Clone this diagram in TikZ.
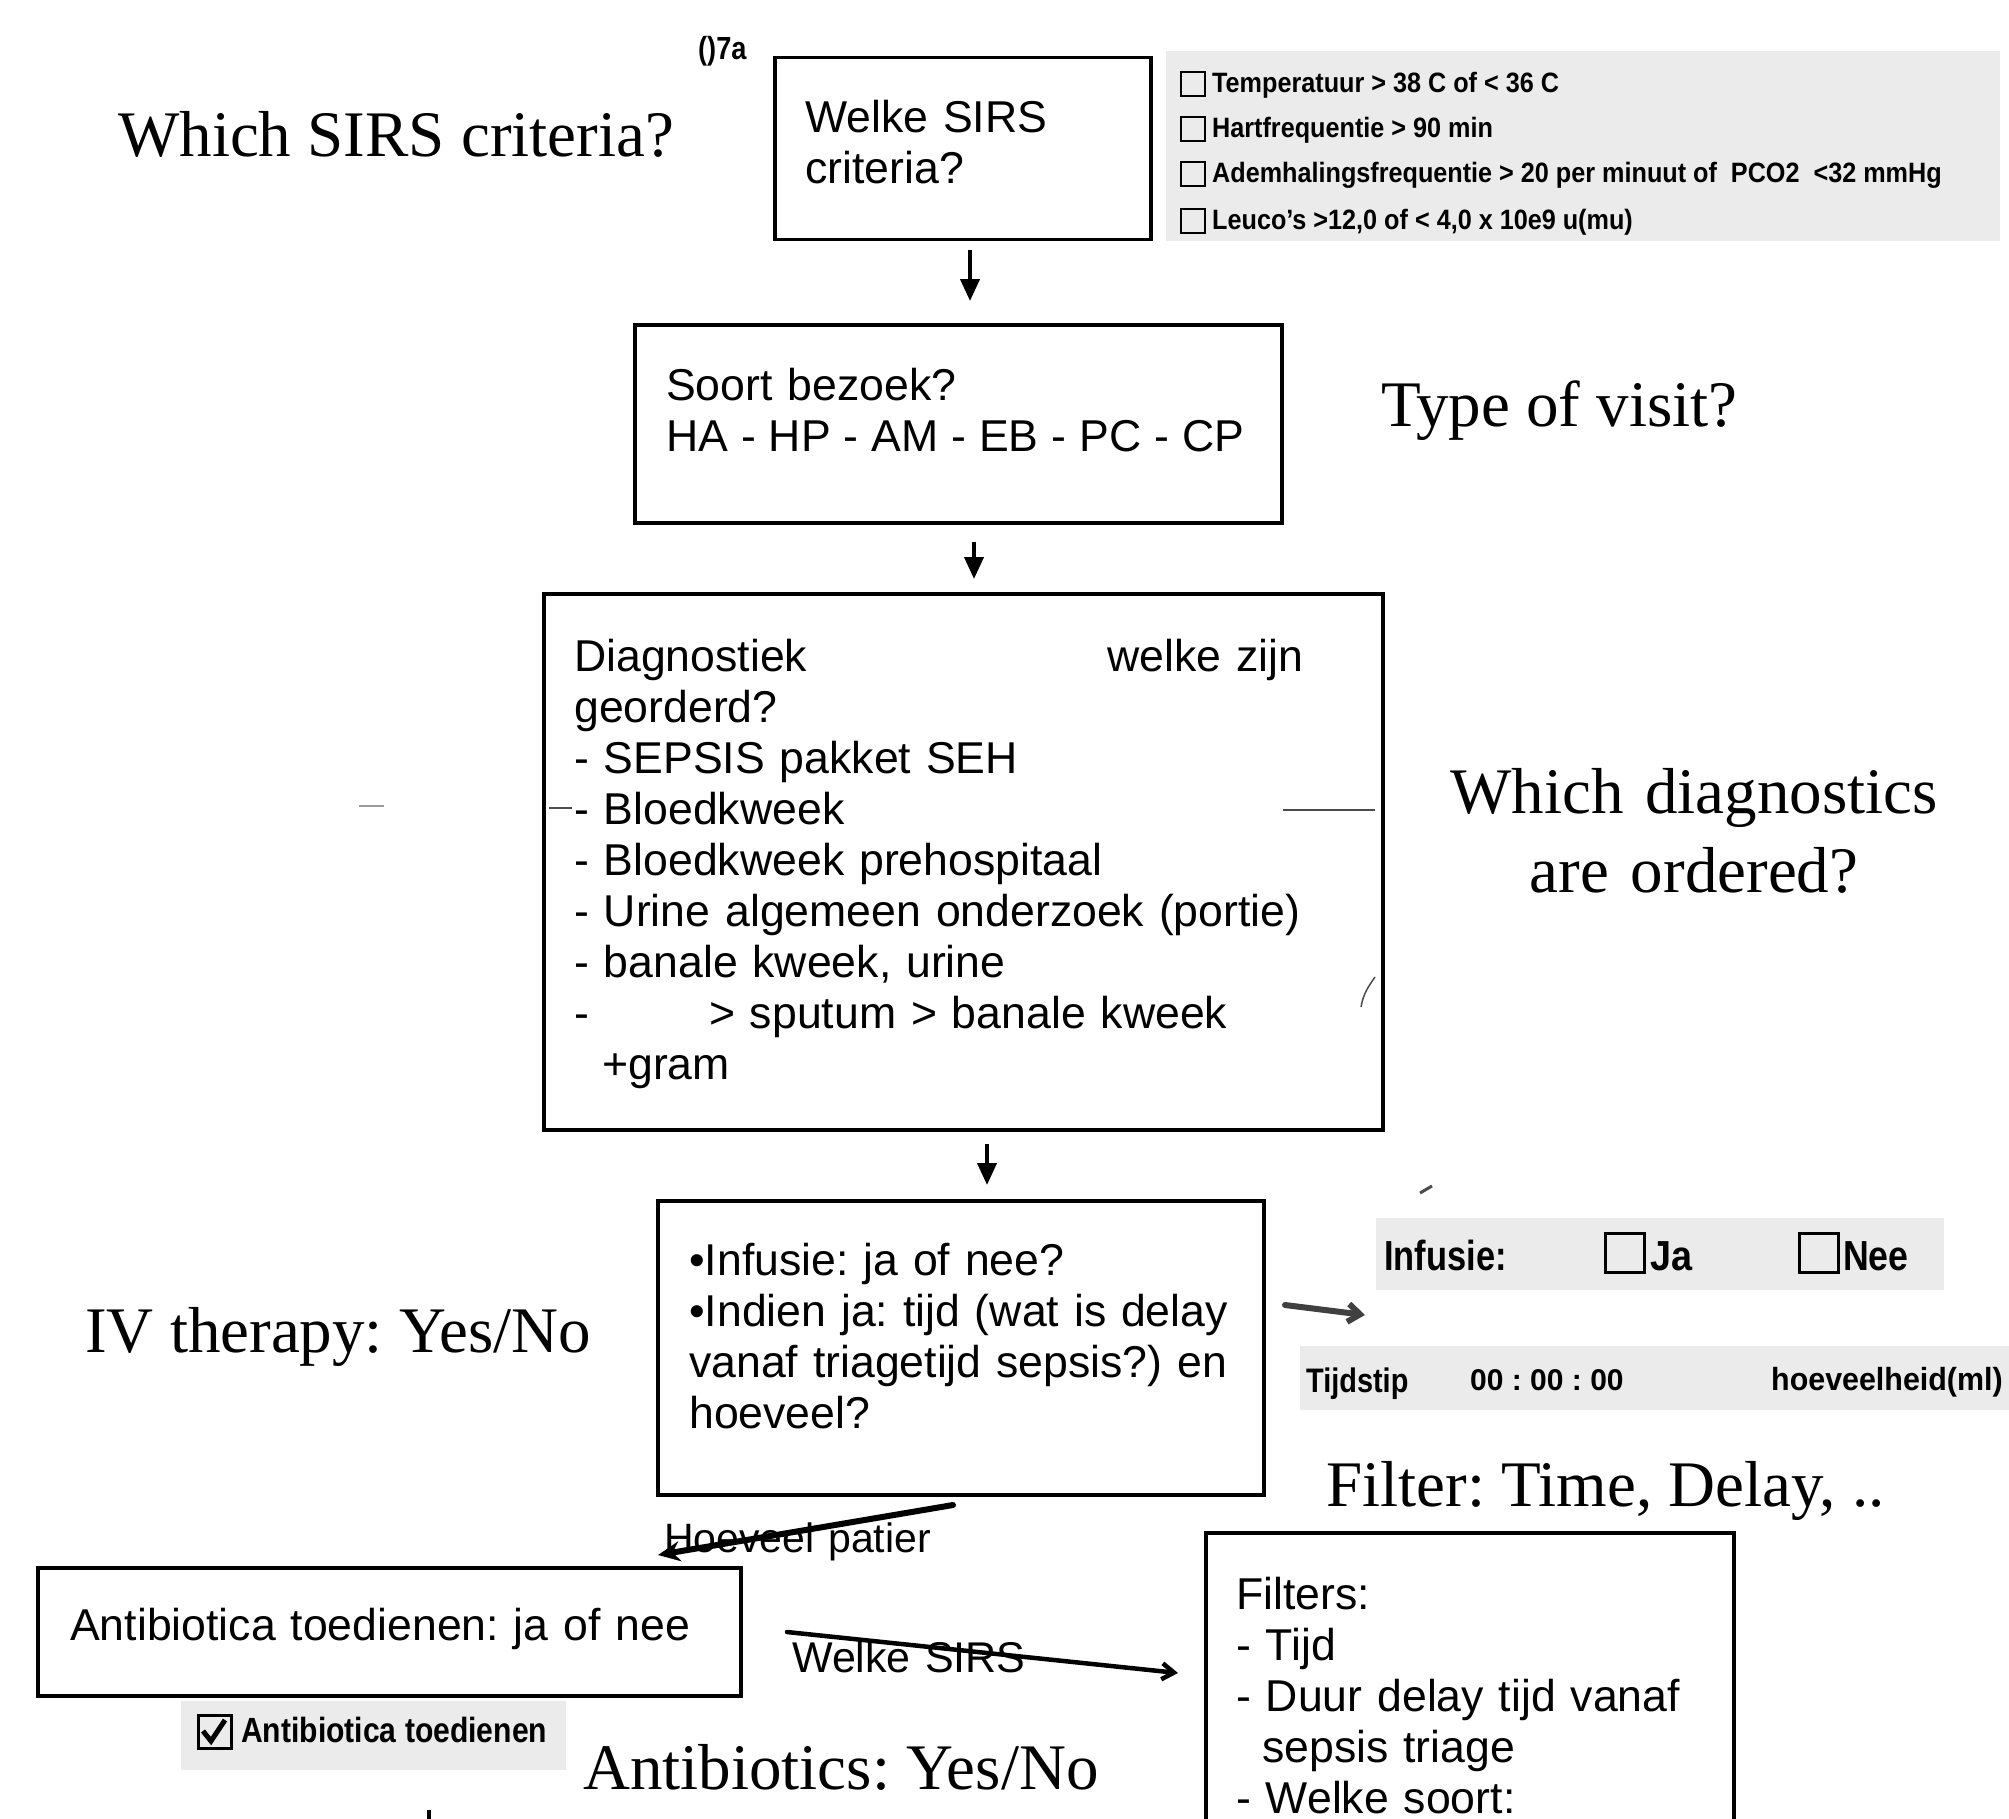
\documentclass[tikz,border=0pt]{standalone}
\usepackage{fontspec}
\setmainfont{Liberation Serif}
\setsansfont{Liberation Sans}
\usetikzlibrary{arrows.meta}
\frenchspacing

\begin{document}
\begin{tikzpicture}[x=1pt, y=-1pt,
		box/.style = { draw, line width = 3.5pt, inner sep = 0pt, anchor = north west },
		boxtext/.style = { anchor = base west, inner sep = 0pt, text width = 820pt, align = left, font = \sffamily\fontsize{44.6}{51}\selectfont },
		note/.style = { anchor = base west, inner sep = 0pt, font = \rmfamily\fontsize{65}{79}\selectfont },
		panel/.style = { fill = black!8 },
		form/.style = { anchor = base west, inner sep = 0pt, font = \sffamily\bfseries\fontsize{28}{30}\selectfont },
		chkbox/.style = { draw, line width = 2pt, inner sep = 0pt, minimum size = 24pt, anchor = north west },
		flow/.style = { line width = 4pt, -{Triangle[ length = 22pt, width = 19pt ]} },
		scribble/.style = { line width = 5pt, line cap = round },
		smudge/.style = { line width = 1.5pt, black!70 }
	]
		\useasboundingbox ( 0, 0 ) rectangle ( 2009, 1819 );
		\clip ( 0, 0 ) rectangle ( 2009, 1819 );

		% серые вставки
		\fill [ panel ] ( 1166, 51 ) rectangle ( 2000, 241 );
		\fill [ panel ] ( 1376, 1218 ) rectangle ( 1944, 1290 );
		\fill [ panel ] ( 1300, 1346 ) rectangle ( 2009, 1410 );
		\fill [ panel ] ( 181, 1701 ) rectangle ( 566, 1770 );

		% метка вверху
		\node [ form, xscale = 0.85, font = \sffamily\bfseries\fontsize{32}{32}\selectfont ] (mark) at ( 698, 60 ) {()7a};

		% блок 1
		\node [ box, minimum width = 376pt, minimum height = 182pt ] (box1) at ( 773, 56 ) {};
		\node [ boxtext ] (txt1) at ( 805, 133 ) {Welke SIRS\\criteria?};
		\node [ note ] (note1) at ( 118, 157 ) {Which SIRS criteria?};

		% критерии
		\node [ chkbox ] (chk1) at ( 1180, 71 ) {};
		\node [ chkbox ] (chk2) at ( 1180, 116 ) {};
		\node [ chkbox ] (chk3) at ( 1180, 161 ) {};
		\node [ chkbox ] (chk4) at ( 1180, 208 ) {};
		\node [ form, xscale = 0.9 ] (crit1) at ( 1212, 93 ) {Temperatuur > 38 C of < 36 C};
		\node [ form, xscale = 0.9 ] (crit2) at ( 1212, 138 ) {Hartfrequentie > 90 min};
		\node [ form, xscale = 0.9 ] (crit3) at ( 1212, 183 ) {Ademhalingsfrequentie > 20 per minuut of\ \ PCO2\ \ <32 mmHg};
		\node [ form, xscale = 0.9 ] (crit4) at ( 1212, 230 ) {Leuco's >12,0 of < 4,0 x 10e9 u(mu)};

		% блок 2
		\node [ box, minimum width = 647pt, minimum height = 198pt ] (box2) at ( 633, 323 ) {};
		\node [ boxtext ] (txt2) at ( 666, 400 ) {Soort bezoek?\\{\spaceskip=0.29em HA - HP - AM - EB - PC - CP}};
		\node [ note ] (note2) at ( 1381, 426 ) {Type of visit?};

		% блок 3
		\node [ box, minimum width = 839pt, minimum height = 536pt ] (box3) at ( 542, 592 ) {};
		\node [ boxtext ] (txt3) at ( 574, 671 ) {\makebox[533pt][l]{Diagnostiek}welke zijn\\georderd?\\- SEPSIS pakket SEH\\- Bloedkweek\\- Bloedkweek prehospitaal\\- Urine algemeen onderzoek (portie)\\- banale kweek, urine\\-\hspace{120pt}> sputum > banale kweek\\\hspace*{28pt}+gram};
		\node [ note, anchor = base, text width = 700pt, align = center ] (note3) at ( 1694, 813 ) {Which diagnostics\\are ordered?};
		\draw [ smudge, black!40 ] ( 359, 806 ) -- ( 384, 806 );
		\draw [ smudge ] ( 549, 808 ) -- ( 572, 808 );
		\draw [ smudge ] ( 1283, 810 ) -- ( 1375, 810 );
		\draw [ smudge ] ( 1375, 977 ) to [ out = 235, in = 80 ] ( 1361, 1007 );

		% блок 4
		\node [ box, minimum width = 606pt, minimum height = 294pt ] (box4) at ( 656, 1199 ) {};
		\node [ boxtext ] (txt4) at ( 689, 1275 ) {•Infusie: ja of nee?\\•Indien ja: tijd (wat is delay\\vanaf triagetijd sepsis?) en\\hoeveel?};
		\node [ note ] (note4) at ( 85, 1352 ) {IV therapy: Yes/No};

		% инфузия
		\node [ form, xscale = 0.82, font = \sffamily\bfseries\fontsize{42}{42}\selectfont ] (inf) at ( 1384, 1270 ) {Infusie:};
		\node [ chkbox, minimum size = 39pt, line width = 3pt ] (chkja) at ( 1604, 1232 ) {};
		\node [ form, xscale = 0.9, font = \sffamily\bfseries\fontsize{42}{42}\selectfont ] (ja) at ( 1650, 1270 ) {Ja};
		\node [ chkbox, minimum size = 39pt, line width = 3pt ] (chknee) at ( 1798, 1232 ) {};
		\node [ form, xscale = 0.85, font = \sffamily\bfseries\fontsize{42}{42}\selectfont ] (nee) at ( 1843, 1270 ) {Nee};
		\node [ form, xscale = 0.85, font = \sffamily\bfseries\fontsize{34}{34}\selectfont ] (tijdstip) at ( 1306, 1392 ) {Tijdstip};
		\node [ form, font = \sffamily\bfseries\fontsize{30}{30}\selectfont ] (klok) at ( 1470, 1390 ) {00 : 00 : 00};
		\node [ form, xscale = 0.95, font = \sffamily\bfseries\fontsize{32}{32}\selectfont ] (ml) at ( 1771, 1390 ) {hoeveelheid(ml)};
		\node [ note ] (note5) at ( 1326, 1506 ) {Filter: Time, Delay, ..};
		\draw [ smudge, line width = 3pt ] ( 1420, 1193 ) -- ( 1432, 1186 );

		% блок 5
		\node [ box, minimum width = 703pt, minimum height = 128pt ] (box5) at ( 36, 1566 ) {};
		\node [ boxtext ] (txt5) at ( 70, 1640 ) {Antibiotica toedienen: ja of nee};
		\node [ chkbox, minimum size = 33pt, line width = 3pt ] (chkab) at ( 197, 1714 ) {};
		\draw [ line width = 5pt ] ( 203, 1731 ) -- ( 211, 1741 ) -- ( 225, 1720 );
		\node [ form, xscale = 0.86, font = \sffamily\bfseries\fontsize{35}{35}\selectfont ] (ab) at ( 241, 1742 ) {Antibiotica toedienen};
		\node [ note ] (note6) at ( 583, 1789 ) {Antibiotics: Yes/No};

		% блок 6
		\node [ box, minimum width = 528pt, minimum height = 400pt ] (box6) at ( 1204, 1531 ) {};
		\node [ boxtext ] (txt6) at ( 1236, 1609 ) {Filters:\\- Tijd\\- Duur delay tijd vanaf\\\hspace*{26pt}sepsis triage\\- Welke soort:};

		% стрелки
		\coordinate (col1) at ( 970, 0 );
		\coordinate (col2) at ( 974, 0 );
		\coordinate (col3) at ( 987, 0 );
		\coordinate (col4) at ( 429, 0 );
		\coordinate (end4) at ( 429, 1850 );
		\draw [ flow, shorten <= 9pt, shorten >= 22pt ] (box1.south -| col1) -- (box2.north -| col1);
		\draw [ flow, shorten <= 17pt, shorten >= 13pt ] (box2.south -| col2) -- (box3.north -| col2);
		\draw [ flow, shorten <= 12pt, shorten >= 14pt ] (box3.south -| col3) -- (box4.north -| col3);
		\draw [ line width = 4pt, shorten <= 112pt ] (box5.south -| col4) -- (end4);

		% зачёркнутые подписи
		\node [ boxtext, font = \sffamily\fontsize{41}{41}\selectfont ] (hoeveel) at ( 664, 1552 ) {Hoeveel patier};
		\node [ boxtext, font = \sffamily\fontsize{43}{43}\selectfont ] (welke) at ( 792, 1672 ) {Welke SIRS};
		\coordinate (hv1) at ( 953, 1505 );
		\coordinate (hv2) at ( 658, 1555 );
		\coordinate (ws1) at ( 787, 1632 );
		\coordinate (ws2) at ( 1178, 1673 );
		\coordinate (in1) at ( 1285, 1305 );
		\coordinate (in2) at ( 1365, 1315 );
		\draw [ scribble, line width = 6pt, -{Stealth[ length = 22pt, width = 20pt ]} ] (hv1) -- (hv2);
		\draw [ scribble, line width = 4.5pt, -{Straight Barb[ length = 12pt, width = 16pt ]} ] (ws1) -- (ws2);
		\draw [ scribble, line width = 6pt, black!75, -{Straight Barb[ length = 12pt, width = 18pt ]} ] (in1) -- (in2);
	\end{tikzpicture}
\end{document}
